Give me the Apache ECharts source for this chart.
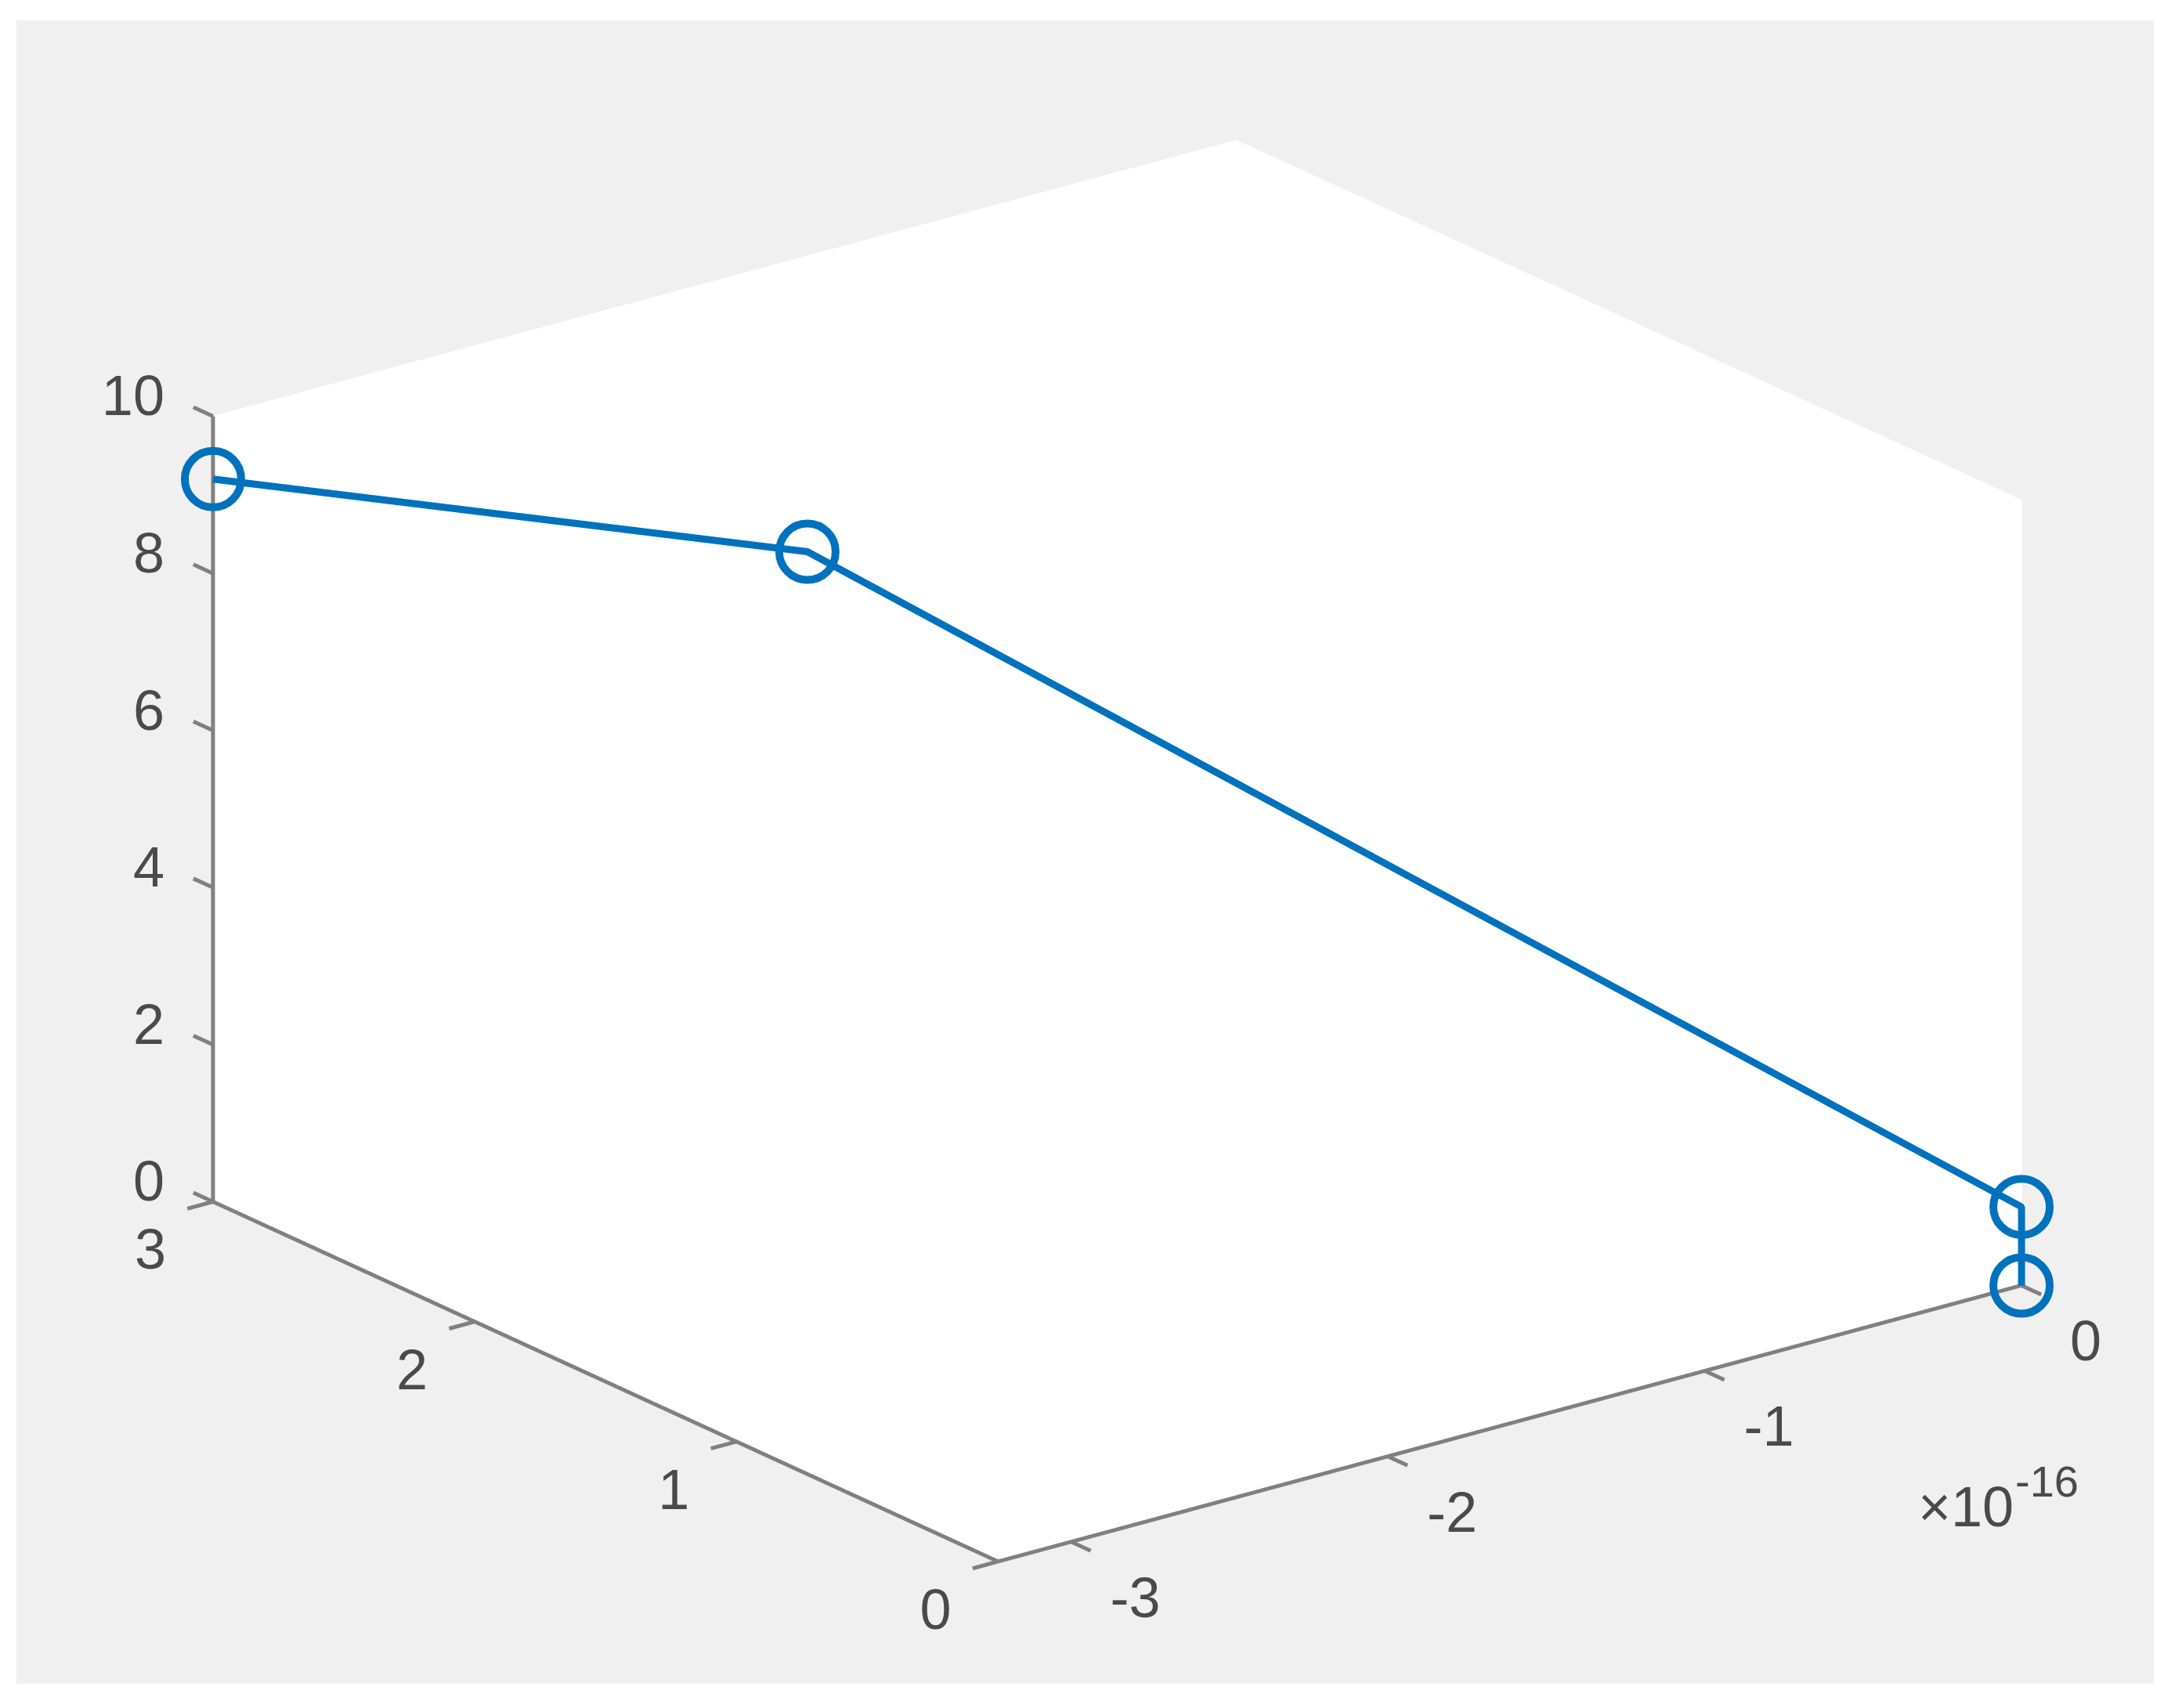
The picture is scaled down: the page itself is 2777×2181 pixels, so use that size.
<!DOCTYPE html>
<html>
<head>
<meta charset="utf-8">
<title>plot3</title>
<script src="https://cdn.jsdelivr.net/npm/echarts@6/dist/echarts.min.js"></script>
<style>
html, body { margin: 0; padding: 0; background: #fff; }
#main { width: 2777px; height: 2181px; }
</style>
</head>
<body>
<div id="main"></div>
<script>
// 3d line data (x is only numerical noise, shown with a x10^-16 multiplier)
const xData = [-3.23e-16, -2.18e-16, 0, 0];
const yData = [3, 2, 0, 0];
const zData = [9.2, 8.66, 1, 0];

// axis limits and ticks
const xLim = [-3.23e-16, 0];
const yLim = [0, 3];
const zLim = [0, 10];
const xTicks = [-3e-16, -2e-16, -1e-16, 0];
const yTicks = [0, 1, 2, 3];
const zTicks = [0, 2, 4, 6, 8, 10];
const xExp = -16;

// matlab default view(3)
const az = -37.5 * Math.PI / 180;
const el = 30 * Math.PI / 180;
const tickLen = 0.025; // part of the axis length

// orthographic projection of the unit box -> flat view coords
function project(x, y, z) {
  const u = (x - xLim[0]) / (xLim[1] - xLim[0]) - 0.5;
  const v = (y - yLim[0]) / (yLim[1] - yLim[0]) - 0.5;
  const w = (z - zLim[0]) / (zLim[1] - zLim[0]) - 0.5;
  return [
    Math.cos(az) * u + Math.sin(az) * v,
    -Math.sin(el) * Math.sin(az) * u + Math.sin(el) * Math.cos(az) * v + Math.cos(el) * w
  ];
}

function corner(c) {
  return project(xLim[c[0]], yLim[c[1]], zLim[c[2]]);
}

// back planes of the box (white)
const faces = [
  [[0, 0, 0], [1, 0, 0], [1, 1, 0], [0, 1, 0]],
  [[0, 1, 0], [1, 1, 0], [1, 1, 1], [0, 1, 1]],
  [[1, 0, 0], [1, 1, 0], [1, 1, 1], [1, 0, 1]]
];
// visible axis lines
const axisEdges = [
  [[0, 0, 0], [1, 0, 0]],  // x
  [[0, 0, 0], [0, 1, 0]],  // y
  [[0, 1, 0], [0, 1, 1]]   // z
];

const tickData = []
xTicks.forEach(v => tickData.push([0, v]))
yTicks.forEach(v => tickData.push([1, v]))
zTicks.forEach(v => tickData.push([2, v]))

const axisColor = '#808080';
const textColor = '#4a4a4a';
const fontFamily = 'Liberation Sans, Arial, sans-serif';

function tickGeom(k, val) {
  const xr = xLim[1] - xLim[0], yr = yLim[1] - yLim[0];
  if (k === 0) return [project(val, yLim[0], zLim[0]), project(val, yLim[0] - tickLen * yr, zLim[0])];
  if (k === 1) return [project(xLim[0], val, zLim[0]), project(xLim[0] - tickLen * xr, val, zLim[0])];
  return [project(xLim[0], yLim[1], val), project(xLim[0], yLim[1] + tickLen * yr, val)];
}

function tickLabel(k, val) {
  if (k === 0) return String(Math.round(val / Math.pow(10, xExp)));
  return String(val);
}

const chart = echarts.init(document.getElementById('main'));

const option = {
  animation: false,
  graphic: [{
    type: 'rect',
    left: 21,
    top: 26,
    z: -10,
    silent: true,
    shape: { width: 2729, height: 2124 },
    style: { fill: '#f0f0f0' }
  }],
  grid: { left: 109, top: 160, width: 2635, height: 1853 },
  xAxis: { type: 'value', min: -0.8, max: 0.8, show: false },
  yAxis: { type: 'value', min: -0.8, max: 0.8, show: false },
  series: [
    {
      name: 'walls',
      type: 'custom',
      z: 1,
      silent: true,
      data: faces.map((f, i) => [i]),
      renderItem: function (params, api) {
        const f = faces[params.dataIndex];
        return {
          type: 'polygon',
          shape: { points: f.map(c => api.coord(corner(c))) },
          style: { fill: '#ffffff', stroke: '#ffffff', lineWidth: 1 }
        };
      }
    },
    {
      name: 'axes',
      type: 'custom',
      z: 2,
      silent: true,
      data: axisEdges.map((e, i) => [i]),
      renderItem: function (params, api) {
        const e = axisEdges[params.dataIndex];
        const p0 = api.coord(corner(e[0]));
        const p1 = api.coord(corner(e[1]));
        return {
          type: 'line',
          shape: { x1: p0[0], y1: p0[1], x2: p1[0], y2: p1[1] },
          style: { stroke: axisColor, lineWidth: 5 }
        };
      }
    },
    {
      name: 'ticks',
      type: 'custom',
      z: 2,
      silent: true,
      data: tickData,
      renderItem: function (params, api) {
        const k = tickData[params.dataIndex][0];
        const val = tickData[params.dataIndex][1];
        const g = tickGeom(k, val);
        const p0 = api.coord(g[0]);
        const p1 = api.coord(g[1]);
        let lx, ly, align;
        if (k === 0) { lx = p0[0] + 82; ly = p0[1] + 76; align = 'center'; }
        else if (k === 1) { lx = p0[0] - 80; ly = p0[1] + 66; align = 'center'; }
        else { lx = p0[0] - 62; ly = p0[1] - 21; align = 'right'; }
        return {
          type: 'group',
          children: [
            {
              type: 'line',
              shape: { x1: p0[0], y1: p0[1], x2: p1[0], y2: p1[1] },
              style: { stroke: axisColor, lineWidth: 5 }
            },
            {
              type: 'text',
              x: lx,
              y: ly,
              style: {
                text: tickLabel(k, val),
                fill: textColor,
                fontSize: 72,
                fontFamily: fontFamily,
                align: align,
                verticalAlign: 'middle'
              }
            }
          ]
        };
      }
    },
    {
      name: 'exponent',
      type: 'custom',
      z: 2,
      silent: true,
      data: [[xExp]],
      renderItem: function (params, api) {
        const p = api.coord(project(xLim[1], yLim[0], zLim[0]));
        return {
          type: 'group',
          children: [
            {
              type: 'text',
              x: p[0] - 10,
              y: p[1] + 288,
              style: {
                text: '\u00d710',
                fill: textColor,
                fontSize: 72,
                fontFamily: fontFamily,
                align: 'right',
                verticalAlign: 'middle'
              }
            },
            {
              type: 'text',
              x: p[0] - 8,
              y: p[1] + 254,
              style: {
                text: String(xExp),
                fill: textColor,
                fontSize: 56,
                fontFamily: fontFamily,
                align: 'left',
                verticalAlign: 'middle'
              }
            }
          ]
        };
      }
    },
    {
      name: 'data',
      type: 'line',
      z: 5,
      data: xData.map((x, i) => project(x, yData[i], zData[i])),
      symbol: 'circle',
      symbolSize: 72,
      showAllSymbol: true,
      lineStyle: { color: '#0072BD', width: 9 },
      itemStyle: { color: 'rgba(0,0,0,0)', borderColor: '#0072BD', borderWidth: 10 }
    }
  ]
};

chart.setOption(option);
</script>
</body>
</html>
